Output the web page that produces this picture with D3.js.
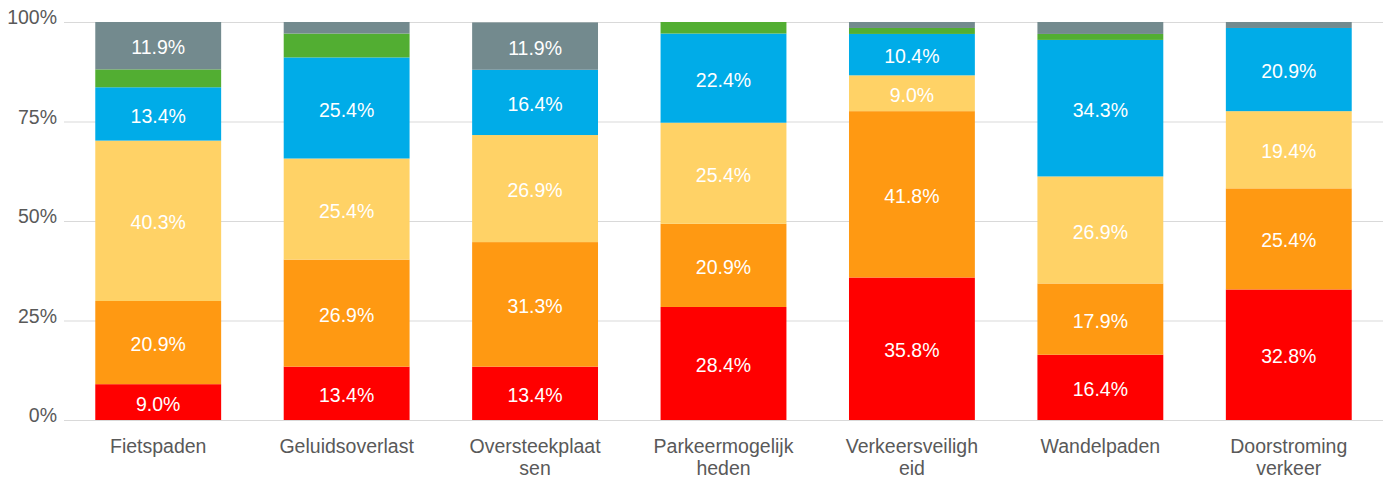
<!DOCTYPE html>
<html>
<head>
<meta charset="utf-8">
<script src="https://cdn.jsdelivr.net/npm/d3@7"></script>
<style>
  body { margin: 0; background: #fff; }
  text { font-family: "Liberation Sans", Arial, sans-serif; }
</style>
</head>
<body>
<div id="chart"></div>
<script>
// categories (line breaks as in the original)
var categories = ["Fietspaden", "Geluidsoverlast", "Oversteekplaat|sen", "Parkeermogelijk|heden",
                  "Verkeersveiligh|eid", "Wandelpaden", "Doorstroming|verkeer"];

// series values, percent
var serie1 = [9.0, 13.4, 13.4, 28.4, 35.8, 16.4, 32.8];   // red
var serie2 = [20.9, 26.9, 31.3, 20.9, 41.8, 17.9, 25.4];  // orange
var serie3 = [40.3, 25.4, 26.9, 25.4, 9.0, 26.9, 19.4];   // yellow
var serie4 = [13.4, 25.4, 16.4, 22.4, 10.4, 34.3, 20.9];  // blue
var serie5 = [4.5, 6.0, 0.0, 3.0, 1.5, 1.5, 0.0];         // green
var serie6 = [11.9, 3.0, 11.9, 0.0, 1.5, 3.0, 1.5];       // grey

var yTicks = [0, 25, 50, 75, 100];

var colors = ["#ff0000", "#ff9912", "#ffd266", "#00ace8", "#52ae32", "#738a8e"];

var width = 1391,
    height = 481;
var margin = {top: 22, right: 8, bottom: 61, left: 64};

var svg = d3.select("#chart")
    .append("svg")
    .attr("width", width)
    .attr("height", height);

var x = d3.scaleBand()
    .domain(categories)
    .range([margin.left, width - margin.right])
    .paddingInner(0.332)
    .paddingOuter(0.166);

var y = d3.scaleLinear()
    .domain([0, 100])
    .range([height - margin.bottom, margin.top]);

// gridlines
svg.append("g")
    .selectAll("line")
    .data(yTicks)
    .enter()
    .append("line")
    .attr("x1", margin.left)
    .attr("x2", width - margin.right)
    .attr("y1", function(d) { return y(d) + 0.5; })
    .attr("y2", function(d) { return y(d) + 0.5; })
    .style("stroke", "#d9d9d9")
    .style("stroke-width", 1);

// y labels
svg.append("g")
    .selectAll("text")
    .data(yTicks)
    .enter()
    .append("text")
    .attr("x", 57)
    .attr("y", function(d) { return y(d) + 2; })
    .style("text-anchor", "end")
    .style("font-size", "19.5px")
    .style("fill", "#595959")
    .text(function(d) { return d + "%"; });

var table = categories.map(function(c, i) {
    return {cat: c, s0: serie1[i], s1: serie2[i], s2: serie3[i], s3: serie4[i], s4: serie5[i], s5: serie6[i]};
});
var keys = ["s0", "s1", "s2", "s3", "s4", "s5"];
var stacked = d3.stack().keys(keys)(table);

var layers = svg.append("g")
    .selectAll("g")
    .data(stacked)
    .enter()
    .append("g")
    .style("fill", function(d, i) { return colors[i]; });

layers.selectAll("rect")
    .data(function(d) { return d; })
    .enter()
    .append("rect")
    .attr("x", function(d) { return x(d.data.cat); })
    .attr("width", x.bandwidth())
    .attr("y", function(d) { return y(Math.min(d[1], 100)); })
    .attr("height", function(d) { return Math.max(0, y(d[0]) - y(Math.min(d[1], 100))); });

// value labels (small segments get none)
var labels = [];
stacked.forEach(function(layer) {
    layer.forEach(function(d) {
        var v = d[1] - d[0];
        if (v >= 7) labels.push({cat: d.data.cat, mid: (d[0] + Math.min(d[1], 100)) / 2, v: v});
    });
});

svg.append("g")
    .selectAll("text")
    .data(labels)
    .enter()
    .append("text")
    .attr("x", function(d) { return x(d.cat) + x.bandwidth() / 2; })
    .attr("y", function(d) { return y(d.mid); })
    .attr("dy", "0.44em")
    .style("text-anchor", "middle")
    .style("font-size", "19.5px")
    .style("fill", "#ffffff")
    .text(function(d) { return d.v.toFixed(1) + "%"; });

// category labels
var catText = svg.append("g")
    .selectAll("text")
    .data(categories)
    .enter()
    .append("text")
    .attr("x", function(d) { return x(d) + x.bandwidth() / 2; })
    .attr("y", 453)
    .style("text-anchor", "middle")
    .style("font-size", "19.5px")
    .style("fill", "#595959");

catText.selectAll("tspan")
    .data(function(d) { return d.split("|"); })
    .enter()
    .append("tspan")
    .attr("x", function() { var c = d3.select(this.parentNode).datum(); return x(c) + x.bandwidth() / 2; })
    .attr("dy", function(d, i) { return i === 0 ? 0 : 22; })
    .text(function(d) { return d; });
</script>
</body>
</html>
